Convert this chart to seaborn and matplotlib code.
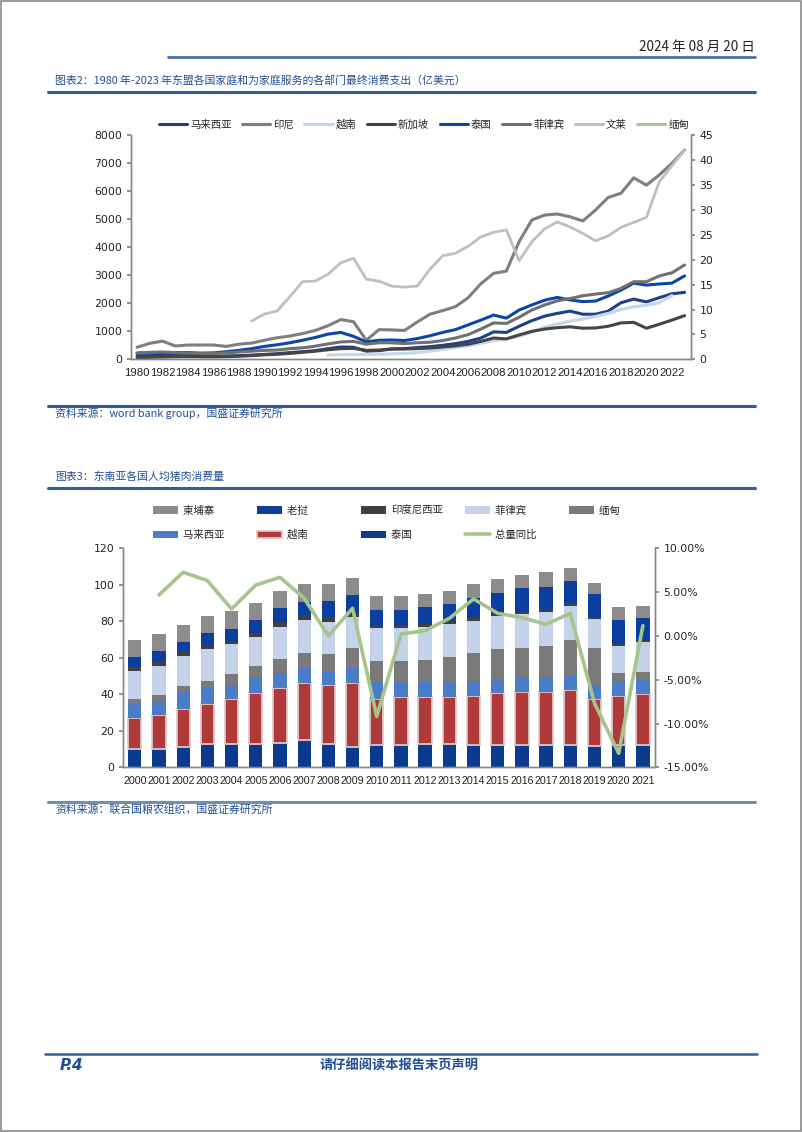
import numpy as np
import matplotlib
matplotlib.use('Agg')
import matplotlib.pyplot as plt
from matplotlib.lines import Line2D
from matplotlib.patches import Patch, Rectangle
import seaborn as sns

# ---------- data: chart 1 (亿美元) ----------
years1 = list(range(1980, 2024))
nan = np.nan
malaysia = [120, 130, 140, 145, 150, 135, 115, 120, 130, 150, 175, 200, 240, 270, 310, 380,
            440, 430, 290, 310, 370, 380, 420, 450, 500, 560, 640, 760, 980, 960, 1180, 1380,
            1540, 1640, 1720, 1610, 1610, 1720, 2020, 2150, 2050, 2200, 2340, 2390]
indonesia = [430, 570, 650, 475, 510, 510, 510, 460, 540, 580, 680, 770, 830, 920, 1030, 1200,
             1420, 1340, 680, 1060, 1050, 1030, 1330, 1610, 1740, 1880, 2200, 2700, 3070, 3150,
             4200, 4975, 5150, 5190, 5090, 4940, 5330, 5780, 5930, 6480, 6220, 6580, 7000, 7475]
vietnam = [nan] * 15 + [150, 165, 175, 175, 180, 195, 210, 240, 290, 350, 420, 480, 570, 660,
                        720, 820, 960, 1150, 1260, 1360, 1440, 1530, 1640, 1780, 1880, 1930,
                        2020, 2280, nan]
singapore = [60, 70, 80, 90, 95, 90, 85, 95, 110, 130, 160, 180, 210, 250, 290, 340, 380, 390,
             320, 330, 370, 370, 380, 400, 440, 480, 540, 640, 760, 730, 870, 1000, 1080, 1130,
             1160, 1110, 1120, 1180, 1300, 1320, 1110, 1250, 1400, 1560]
thailand = [214, 225, 230, 240, 240, 220, 230, 270, 320, 380, 460, 520, 590, 680, 780, 900, 960,
            820, 620, 680, 690, 670, 740, 840, 960, 1060, 1230, 1400, 1580, 1470, 1760, 1940,
            2110, 2210, 2120, 2060, 2080, 2260, 2470, 2720, 2650, 2690, 2720, 2980]
philippines = [230, 250, 260, 240, 220, 210, 210, 230, 260, 290, 320, 330, 380, 410, 470, 550,
               620, 640, 540, 590, 590, 560, 590, 610, 670, 760, 880, 1080, 1300, 1280, 1500,
               1760, 1940, 2090, 2170, 2270, 2330, 2380, 2530, 2770, 2770, 2975, 3090, 3370]
# right axis
brunei = [nan] * 9 + [7.7, 9.1, 9.7, 12.6, 15.6, 15.7, 17.1, 19.4, 20.3, 16.1, 15.7, 14.7, 14.5,
                      14.7, 18.1, 20.8, 21.3, 22.7, 24.6, 25.5, 26.0, 19.8, 23.6, 26.2, 27.6,
                      26.6, 25.3, 23.8, 24.8, 26.5, 27.5, 28.5, 35.6, 38.9, 42.0]
myanmar = [nan] * 44

# ---------- data: chart 2 ----------
years2 = list(range(2000, 2022))
thai_pork = [9.9, 9.9, 11.3, 12.8, 12.8, 12.8, 13.5, 15.0, 12.8, 11.3, 12.2, 12.2, 12.8, 12.8,
             12.2, 12.2, 12.2, 12.2, 12.2, 11.7, 12.2, 12.2]
viet_pork = [16.9, 18.8, 20.7, 21.7, 24.5, 27.7, 29.8, 31.0, 32.3, 35.1, 25.2, 26.5, 25.6, 25.6,
             26.9, 28.3, 29.3, 29.3, 30.2, 25.6, 27.1, 27.8]
malay_pork = [7.9, 7.8, 9.5, 9.3, 7.8, 8.3, 8.2, 8.2, 7.3, 7.8, 9.2, 8.2, 8.5, 8.2, 8.4, 7.7,
              7.3, 8.2, 7.6, 7.8, 8.2, 7.9]
myan_pork = [2.7, 3.1, 3.1, 3.7, 5.9, 6.7, 7.9, 8.3, 9.7, 11.0, 11.8, 11.5, 11.9, 14.0, 15.0,
             16.6, 16.4, 16.8, 19.8, 20.1, 4.4, 4.5]
phil_pork = [15.4, 16.1, 16.6, 17.5, 16.4, 16.1, 17.7, 18.2, 17.7, 17.4, 18.1, 18.1, 18.3, 17.8,
             17.9, 18.1, 18.6, 18.8, 18.6, 15.9, 14.6, 16.5]
indo_pork = [2.4, 2.2, 1.8, 2.0, 1.8, 2.2, 2.7, 2.8, 2.8, 1.8, 1.5, 1.5, 1.3, 1.2, 1.2, 1.1, 1.1,
             1.3, 1.5, 1.1, 1.1, 1.2]
laos_pork = [5.1, 6.0, 5.9, 6.4, 6.4, 6.9, 7.3, 7.3, 8.5, 10.0, 8.2, 8.2, 9.3, 9.7, 11.0, 11.7,
             13.2, 12.4, 12.2, 12.8, 13.1, 11.5]
camb_pork = [9.3, 9.0, 9.1, 9.5, 10.1, 9.5, 9.7, 9.7, 9.4, 9.2, 7.7, 7.7, 7.1, 7.3, 7.9, 7.5,
             7.3, 8.2, 7.3, 5.8, 7.0, 6.8]
yoy = [4.67, 7.26, 6.31, 3.07, 5.81, 6.69, 4.3, 0.0, 3.15, -9.2, 0.22, 0.60, 2.0, 4.22, 2.58,
       2.09, 1.32, 2.58, -7.69, -13.4, 1.17]

BLUE_TXT = '#1f4e96'
RULE = '#2f5d9e'
SPINE = '#868686'

sns.set_theme(style='white')
plt.rcParams['font.family'] = ['Noto Sans CJK SC', 'DejaVu Sans']
plt.rcParams['axes.unicode_minus'] = False

fig = plt.figure(figsize=(8.02, 11.32), dpi=100)
W, H = 802, 1132


def fx(x):
    return x / W


def fy(y):
    return 1 - y / H


def rule(x0, x1, y, lw=2.0, color=RULE):
    fig.add_artist(Line2D([fx(x0), fx(x1)], [fy(y), fy(y)], color=color, lw=lw))


def style_axes(ax):
    for s in ['left', 'right', 'bottom']:
        ax.spines[s].set_color(SPINE)
        ax.spines[s].set_linewidth(1.0)
    ax.spines['top'].set_visible(False)
    ax.set_xlabel('')
    ax.set_ylabel('')
    ax.grid(False)


def tick_fonts(ax, axr):
    for t in ax.get_xticklabels():
        t.set_fontfamily('Liberation Sans')
        t.set_color('#222222')
    for t in ax.get_yticklabels() + axr.get_yticklabels():
        t.set_fontfamily('DejaVu Sans')
        t.set_color('#222222')


# page frame
fig.add_artist(Rectangle((0.0008, 0.0006), 0.998, 0.9985, transform=fig.transFigure,
                         fill=False, edgecolor='#8a8a8a', lw=1.2))

# header
fig.text(fx(755), fy(47), '2024 年 08 月 20 日', ha='right', va='center', fontsize=9.8,
         color='#222222')
rule(168, 755, 57, lw=2.0, color='#4a6fa8')

# ---------- chart 1 ----------
fig.text(fx(55), fy(80), '图表2：1980 年-2023 年东盟各国家庭和为家庭服务的各部门最终消费支出（亿美元）',
         ha='left', va='center', fontsize=7.8, color=BLUE_TXT, style='italic')
rule(48, 755, 92, lw=2.2)

ax1 = fig.add_axes([fx(130.7), fy(359.3), fx(691 - 130.7), (359.3 - 135.3) / H])
ax1r = ax1.twinx()

left_series = [('马来西亚', malaysia, '#1d3f8c'), ('印尼', indonesia, '#7f7f7f'),
               ('越南', vietnam, '#c5d5ea'), ('新加坡', singapore, '#454545'),
               ('泰国', thailand, '#0a46a8'), ('菲律宾', philippines, '#707070')]
handles1 = []
for name, vals, col in left_series:
    sns.lineplot(x=years1, y=vals, ax=ax1, color=col, lw=2.2, legend=False)
    handles1.append(Line2D([], [], color=col, lw=2.2, label=name))
sns.lineplot(x=years1, y=brunei, ax=ax1r, color='#bfbfbf', lw=2.0, legend=False)
handles1.append(Line2D([], [], color='#bfbfbf', lw=2.2, label='文莱'))
ax1r.plot(years1, myanmar, color='#a9c68c', lw=2.2)
handles1.append(Line2D([], [], color='#a9c68c', lw=2.2, label='缅甸'))

ax1.set_xlim(1979.5, 2023.5)
ax1.set_ylim(0, 8000)
ax1r.set_ylim(0, 45)
ax1.set_yticks(range(0, 8001, 1000))
ax1r.set_yticks(range(0, 46, 5))
ax1.set_xticks(range(1980, 2023, 2))
ax1.set_xticklabels([str(y) for y in range(1980, 2023, 2)])
ax1.set_xticks(np.arange(1979.5, 2024, 1), minor=True)
for a in (ax1, ax1r):
    style_axes(a)
ax1.tick_params(axis='x', which='major', length=0, pad=6, labelsize=8.2)
ax1.tick_params(axis='x', which='minor', length=4, direction='in', color=SPINE, width=0.8)
ax1.tick_params(axis='y', length=3, direction='out', color=SPINE, labelsize=7.8, pad=3, left=True)
ax1r.tick_params(axis='y', length=3, direction='out', color=SPINE, labelsize=7.8, pad=3, right=True)
tick_fonts(ax1, ax1r)

fig.legend(handles=handles1, loc='center', bbox_to_anchor=(fx(424), fy(125)), ncol=8,
           frameon=False, fontsize=7.5, handlelength=2.7, handletextpad=0.3,
           columnspacing=1.0)

rule(48, 755, 406, lw=2.2)
fig.text(fx(55), fy(413), '资料来源：word bank group，国盛证券研究所', ha='left', va='center',
         fontsize=7.8, color=BLUE_TXT, style='italic')

# ---------- chart 2 ----------
fig.text(fx(55), fy(477), '图表3：东南亚各国人均猪肉消费量', ha='left', va='center',
         fontsize=7.8, color=BLUE_TXT, style='italic')
rule(48, 755, 488, lw=2.2)

ax2 = fig.add_axes([fx(122.7), fy(767.3), fx(655 - 122.7), (767.3 - 548.3) / H])
ax2r = ax2.twinx()

stack = [('泰国', thai_pork, '#0b3b8f'), ('越南', viet_pork, '#b03a3a'),
         ('马来西亚', malay_pork, '#4a7cc7'), ('缅甸', myan_pork, '#7a7a7a'),
         ('菲律宾', phil_pork, '#c5d3ea'), ('印度尼西亚', indo_pork, '#404040'),
         ('老挝', laos_pork, '#0a3fa0'), ('柬埔寨', camb_pork, '#8c8c8c')]
pos = np.arange(len(years2))
bottom = np.zeros(len(years2))
patches = {}
for name, vals, col in stack:
    vals = np.array(vals)
    if name == '越南':
        ax2.bar(pos, vals, 0.55, bottom=bottom, color=col, edgecolor='#d8caca', lw=1.3)
        patches[name] = Patch(facecolor=col, edgecolor='#d8caca', lw=1.3)
    else:
        ax2.bar(pos, vals, 0.55, bottom=bottom, color=col, lw=0)
        patches[name] = Patch(facecolor=col, lw=0)
    bottom = bottom + vals

sns.lineplot(x=pos[1:], y=yoy, ax=ax2r, color='#a6c48c', lw=2.6, legend=False)
line_h = Line2D([], [], color='#a6c48c', lw=2.6)

ax2.set_xlim(-0.5, len(years2) - 0.5)
ax2.set_ylim(0, 120)
ax2.set_yticks(range(0, 121, 20))
ax2r.set_ylim(-15, 10)
ax2r.set_yticks(range(-15, 11, 5))
ax2r.set_yticklabels([f'{v:.2f}%' for v in range(-15, 11, 5)])
ax2.set_xticks(pos)
ax2.set_xticklabels([str(y) for y in years2])
ax2.set_xticks(np.arange(-0.5, len(years2), 1), minor=True)
for a in (ax2, ax2r):
    style_axes(a)
ax2.tick_params(axis='x', which='major', length=0, pad=6, labelsize=7.7)
ax2.tick_params(axis='x', which='minor', length=4, direction='in', color=SPINE, width=0.8)
ax2.tick_params(axis='y', length=3, direction='out', color=SPINE, labelsize=7.8, pad=3, left=True)
ax2r.tick_params(axis='y', length=3, direction='out', color=SPINE, labelsize=7.8, pad=3, right=True)
tick_fonts(ax2, ax2r)

# legend laid out row by row (matplotlib fills columns first)
order = ['柬埔寨', '马来西亚', '老挝', '越南', '印度尼西亚', '泰国', '菲律宾', '总量同比', '缅甸']
hs, ls = [], []
for nm in order:
    hs.append(line_h if nm == '总量同比' else patches[nm])
    ls.append(nm + '\u3000' * (5 - len(nm)))
fig.legend(hs, ls, loc='center', bbox_to_anchor=(fx(402), fy(523)), ncol=5, frameon=False,
           fontsize=7.5, handlelength=2.4, handleheight=0.75, handletextpad=0.5,
           columnspacing=2.1, labelspacing=1.35)

rule(48, 755, 802, lw=2.2, color='#6f8fb5')
fig.text(fx(55), fy(809), '资料来源：联合国粮农组织，国盛证券研究所', ha='left', va='center',
         fontsize=7.8, color=BLUE_TXT, style='italic')

# footer
rule(45, 757, 1054, lw=1.8)
fig.text(fx(60), fy(1066), 'P.4', ha='left', va='center', fontsize=11, color=BLUE_TXT,
         fontweight='bold', style='italic', family='DejaVu Sans')
fig.text(fx(399), fy(1066), '请仔细阅读本报告末页声明', ha='center', va='center', fontsize=9.5,
         color=BLUE_TXT, fontweight='bold')

fig.savefig('out.png', dpi=100)
